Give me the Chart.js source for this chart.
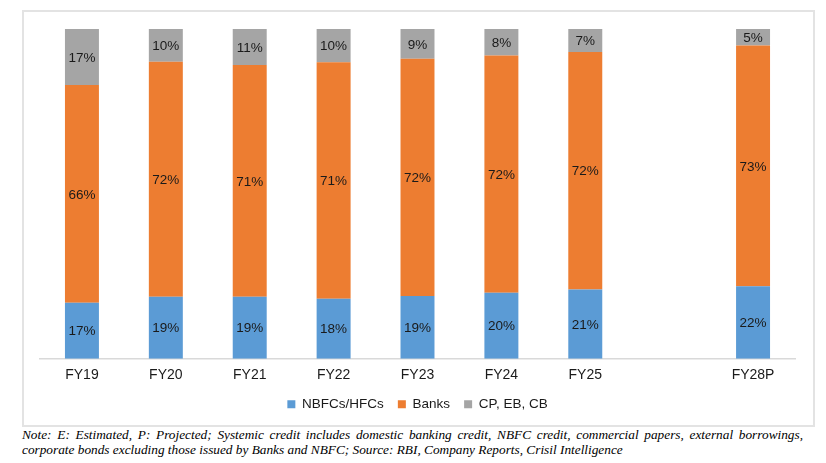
<!DOCTYPE html>
<html lang="en">
<head>
  <meta charset="UTF-8">
  <title>Systemic credit share</title>
  <script src="https://cdn.jsdelivr.net/npm/chart.js"></script>
  <style>
    body { margin: 0; background: #fff; }
    #chart-box {
      position: absolute;
      left: 22px;
      top: 10px;
      width: 789px;
      height: 413px;
      border: 2px solid #e3e3e3;
    }
    #note {
      position: absolute;
      left: 22px;
      top: 427px;
      width: 781px;
      font-family: "Liberation Serif", serif;
      font-style: italic;
      font-size: 13.3px;
      line-height: 15px;
      color: #000;
    }
    #note .l1 { text-align: justify; text-align-last: justify; white-space: nowrap; }
  </style>
</head>
<body>
  <div id="chart-box">
    <canvas id="creditChart"></canvas>
  </div>
  <div id="note">
    <div class="l1">Note: E: Estimated, P: Projected; Systemic credit includes domestic banking credit, NBFC credit, commercial papers, external borrowings,</div>
    <div>corporate bonds excluding those issued by Banks and NBFC; Source: RBI, Company Reports, Crisil Intelligence</div>
  </div>
  <script>
    // 空のカテゴリでFY25とFY28Pの間を空ける
    const years = ['FY19', 'FY20', 'FY21', 'FY22', 'FY23', 'FY24', 'FY25', '', 'FY28P'];
    const nbfcShare = [17, 19, 19, 18, 19, 20, 21, null, 22];
    const bankShare = [66, 72, 71, 71, 72, 72, 72, null, 73];
    const otherShare = [17, 10, 11, 10, 9, 8, 7, null, 5];

    // 100%積み上げ：各年の合計で割る
    const totals = years.map((y, i) => (nbfcShare[i] || 0) + (bankShare[i] || 0) + (otherShare[i] || 0));
    const pct = arr => arr.map((v, i) => v == null ? null : v / totals[i] * 100);

    const labelPlugin = {
      id: 'segmentLabels',
      afterDatasetsDraw(chart) {
        const ctx = chart.ctx;
        ctx.save();
        ctx.font = '13.5px "Liberation Sans", Arial, sans-serif';
        ctx.fillStyle = '#1a1a1a';
        ctx.textAlign = 'center';
        ctx.textBaseline = 'middle';
        chart.data.datasets.forEach((ds, di) => {
          chart.getDatasetMeta(di).data.forEach((bar, i) => {
            const raw = ds.rawValues[i];
            if (raw == null) return;
            const mid = (bar.y + bar.base) / 2;
            ctx.fillText(raw + '%', bar.x, mid + 1);
          });
        });
        ctx.restore();
      }
    };

    const ctx = document.getElementById('creditChart').getContext('2d');
    new Chart(ctx, {
      type: 'bar',
      data: {
        labels: years,
        datasets: [
          { label: 'NBFCs/HFCs', data: pct(nbfcShare), rawValues: nbfcShare, backgroundColor: '#5B9BD5' },
          { label: 'Banks', data: pct(bankShare), rawValues: bankShare, backgroundColor: '#ED7D31' },
          { label: 'CP, EB, CB', data: pct(otherShare), rawValues: otherShare, backgroundColor: '#A5A5A5' }
        ]
      },
      options: {
        responsive: true,
        maintainAspectRatio: false,
        animation: false,
        categoryPercentage: 1,
        barPercentage: 0.405,
        layout: { padding: { left: 16, right: 18, top: 17, bottom: 4 } },
        scales: {
          x: {
            stacked: true,
            grid: { display: false },
            border: { color: '#d9d9d9', width: 1.5 },
            ticks: { color: '#1a1a1a', font: { family: '"Liberation Sans", Arial, sans-serif', size: 14 }, padding: 0 }
          },
          y: {
            stacked: true,
            display: false,
            min: 0,
            max: 100
          }
        },
        plugins: {
          legend: {
            position: 'bottom',
            labels: {
              boxWidth: 8,
              boxHeight: 8,
              padding: 14,
              color: '#1a1a1a',
              font: { family: '"Liberation Sans", Arial, sans-serif', size: 13.5 }
            }
          },
          tooltip: { enabled: false }
        }
      },
      plugins: [labelPlugin]
    });
  </script>
</body>
</html>
